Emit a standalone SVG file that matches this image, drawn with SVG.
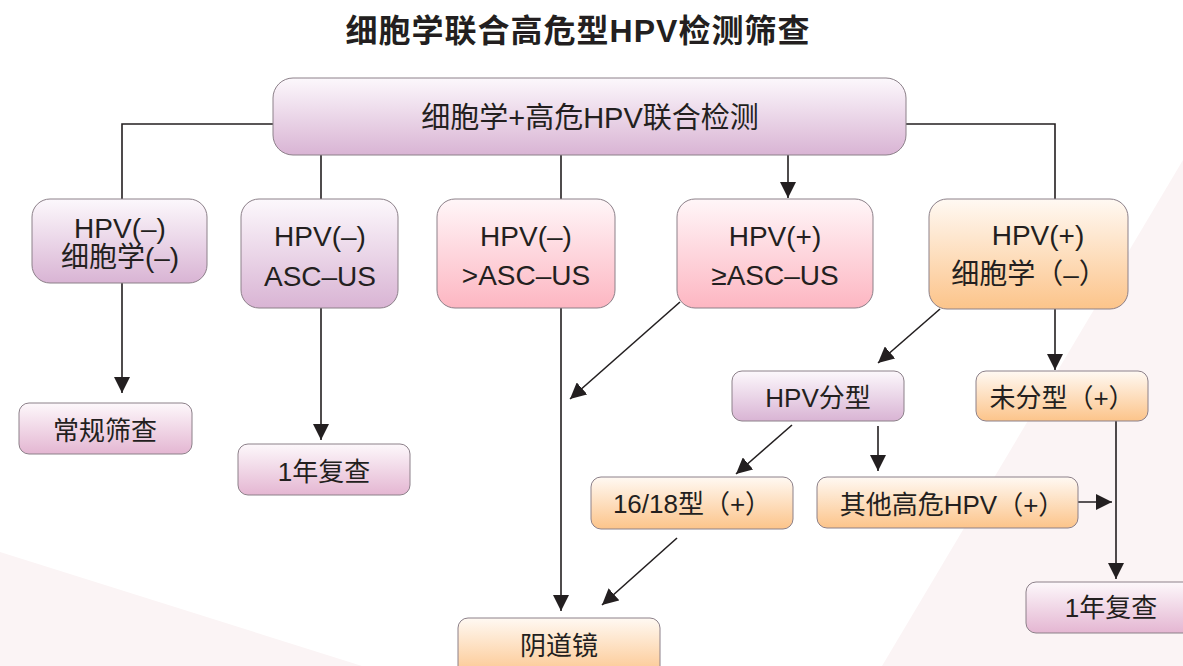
<svg xmlns="http://www.w3.org/2000/svg" width="1183" height="666" viewBox="0 0 1183 666">
<defs>
<style>
.t{font-family:"Liberation Sans","Noto Sans CJK SC",sans-serif;fill:#231f20;text-anchor:middle}
.bx{stroke:#8c8089;stroke-width:1}
.ln{stroke:#231f20;stroke-width:1.6;fill:none}
</style>
<linearGradient id="gPur" x1="0" y1="0" x2="0" y2="1"><stop offset="0" stop-color="#fcf8fc"/><stop offset="1" stop-color="#d9b4d4"/></linearGradient>
<linearGradient id="gPink" x1="0" y1="0" x2="0" y2="1"><stop offset="0" stop-color="#fff6f8"/><stop offset="1" stop-color="#fdb6c2"/></linearGradient>
<linearGradient id="gOr" x1="0" y1="0" x2="0" y2="1"><stop offset="0" stop-color="#fff9f3"/><stop offset="1" stop-color="#fcc48a"/></linearGradient>
<linearGradient id="gRose" x1="0" y1="0" x2="0" y2="1"><stop offset="0" stop-color="#fdf8fb"/><stop offset="1" stop-color="#e4b6d2"/></linearGradient>
<marker id="ah" markerUnits="userSpaceOnUse" markerWidth="18" markerHeight="16" refX="16" refY="8" orient="auto"><path d="M0,0 L16,8 L0,16 Z" fill="#231f20"/></marker>
</defs>
<rect width="1183" height="666" fill="#ffffff"/>
<polygon points="0,552 362,666 0,666" fill="#fbf4f5"/>
<polygon points="1183,160 1183,666 882,666" fill="#fbf4f5"/>
<text class="t" x="578" y="42" font-size="32" font-weight="bold" letter-spacing="1">细胞学联合高危型HPV检测筛查</text>
<g id="connectors">
<polyline class="ln" points="273,124 122,124 122,199"/>
<polyline class="ln" points="906,124 1055,124 1055,199"/>
<line class="ln" x1="321" y1="155" x2="321" y2="199"/>
<line class="ln" x1="561" y1="155" x2="561" y2="199"/>
<line class="ln" x1="788" y1="155" x2="788" y2="198" marker-end="url(#ah)"/>
<line class="ln" x1="122" y1="283" x2="122" y2="393" marker-end="url(#ah)"/>
<line class="ln" x1="321" y1="308" x2="321" y2="440" marker-end="url(#ah)"/>
<line class="ln" x1="561" y1="308" x2="561" y2="611" marker-end="url(#ah)"/>
<line class="ln" x1="680" y1="302" x2="570" y2="399" marker-end="url(#ah)"/>
<line class="ln" x1="940" y1="309" x2="878" y2="363" marker-end="url(#ah)"/>
<line class="ln" x1="1055" y1="309" x2="1055" y2="370" marker-end="url(#ah)"/>
<line class="ln" x1="792" y1="425" x2="736" y2="474" marker-end="url(#ah)"/>
<line class="ln" x1="878" y1="426" x2="878" y2="471" marker-end="url(#ah)"/>
<line class="ln" x1="1078" y1="502" x2="1112" y2="502" marker-end="url(#ah)"/>
<line class="ln" x1="1116" y1="421" x2="1116" y2="579" marker-end="url(#ah)"/>
<line class="ln" x1="677" y1="538" x2="602" y2="605" marker-end="url(#ah)"/>
</g>
<g id="n-top"><rect class="bx" x="273" y="78" width="633" height="77" rx="20" fill="url(#gPur)"/><text class="t" x="590" y="128" font-size="29">细胞学+高危HPV联合检测</text></g>
<g id="n-a"><rect class="bx" x="32" y="199" width="175" height="84" rx="18" fill="url(#gPur)"/><text class="t" font-size="28"><tspan x="120" y="238">HPV(–)</tspan><tspan x="120" y="267">细胞学(–)</tspan></text></g>
<g id="n-b"><rect class="bx" x="241" y="199" width="157" height="109" rx="18" fill="url(#gPur)"/><text class="t" font-size="28"><tspan x="320" y="246">HPV(–)</tspan><tspan x="320" y="286">ASC–US</tspan></text></g>
<g id="n-c"><rect class="bx" x="437" y="199" width="178" height="109" rx="18" fill="url(#gPink)"/><text class="t" font-size="28"><tspan x="526" y="246">HPV(–)</tspan><tspan x="526" y="285">&gt;ASC–US</tspan></text></g>
<g id="n-d"><rect class="bx" x="677" y="199" width="196" height="109" rx="18" fill="url(#gPink)"/><text class="t" font-size="28"><tspan x="775" y="246">HPV(+)</tspan><tspan x="775" y="285">≥ASC–US</tspan></text></g>
<g id="n-e"><rect class="bx" x="929" y="199" width="199" height="110" rx="18" fill="url(#gOr)"/><text class="t" font-size="28"><tspan x="1038" y="245">HPV(+)</tspan><tspan x="1029" y="284">细胞学（–）</tspan></text></g>
<g id="n-routine"><rect class="bx" x="19" y="403" width="173" height="51" rx="10" fill="url(#gRose)"/><text class="t" x="105" y="440" font-size="26">常规筛查</text></g>
<g id="n-1y-left"><rect class="bx" x="238" y="444" width="172" height="51" rx="10" fill="url(#gRose)"/><text class="t" x="324" y="481" font-size="26">1年复查</text></g>
<g id="n-typing"><rect class="bx" x="732" y="371" width="172" height="50" rx="10" fill="url(#gPur)"/><text class="t" x="818" y="407" font-size="26">HPV分型</text></g>
<g id="n-untyped"><rect class="bx" x="976" y="371" width="172" height="50" rx="10" fill="url(#gOr)"/><text class="t" x="1062" y="407" font-size="26">未分型（+）</text></g>
<g id="n-1618"><rect class="bx" x="591" y="477" width="202" height="52" rx="10" fill="url(#gOr)"/><text class="t" x="692" y="513" font-size="26">16/18型（+）</text></g>
<g id="n-other"><rect class="bx" x="817" y="477" width="261" height="51" rx="10" fill="url(#gOr)"/><text class="t" x="952" y="514" font-size="26">其他高危HPV（+）</text></g>
<g id="n-colpo"><rect class="bx" x="458" y="618" width="202" height="60" rx="10" fill="url(#gOr)"/><text class="t" x="559" y="655" font-size="26">阴道镜</text></g>
<g id="n-1y-right"><rect class="bx" x="1026" y="582" width="170" height="51" rx="10" fill="url(#gRose)"/><text class="t" x="1111" y="617" font-size="26">1年复查</text></g>
</svg>
